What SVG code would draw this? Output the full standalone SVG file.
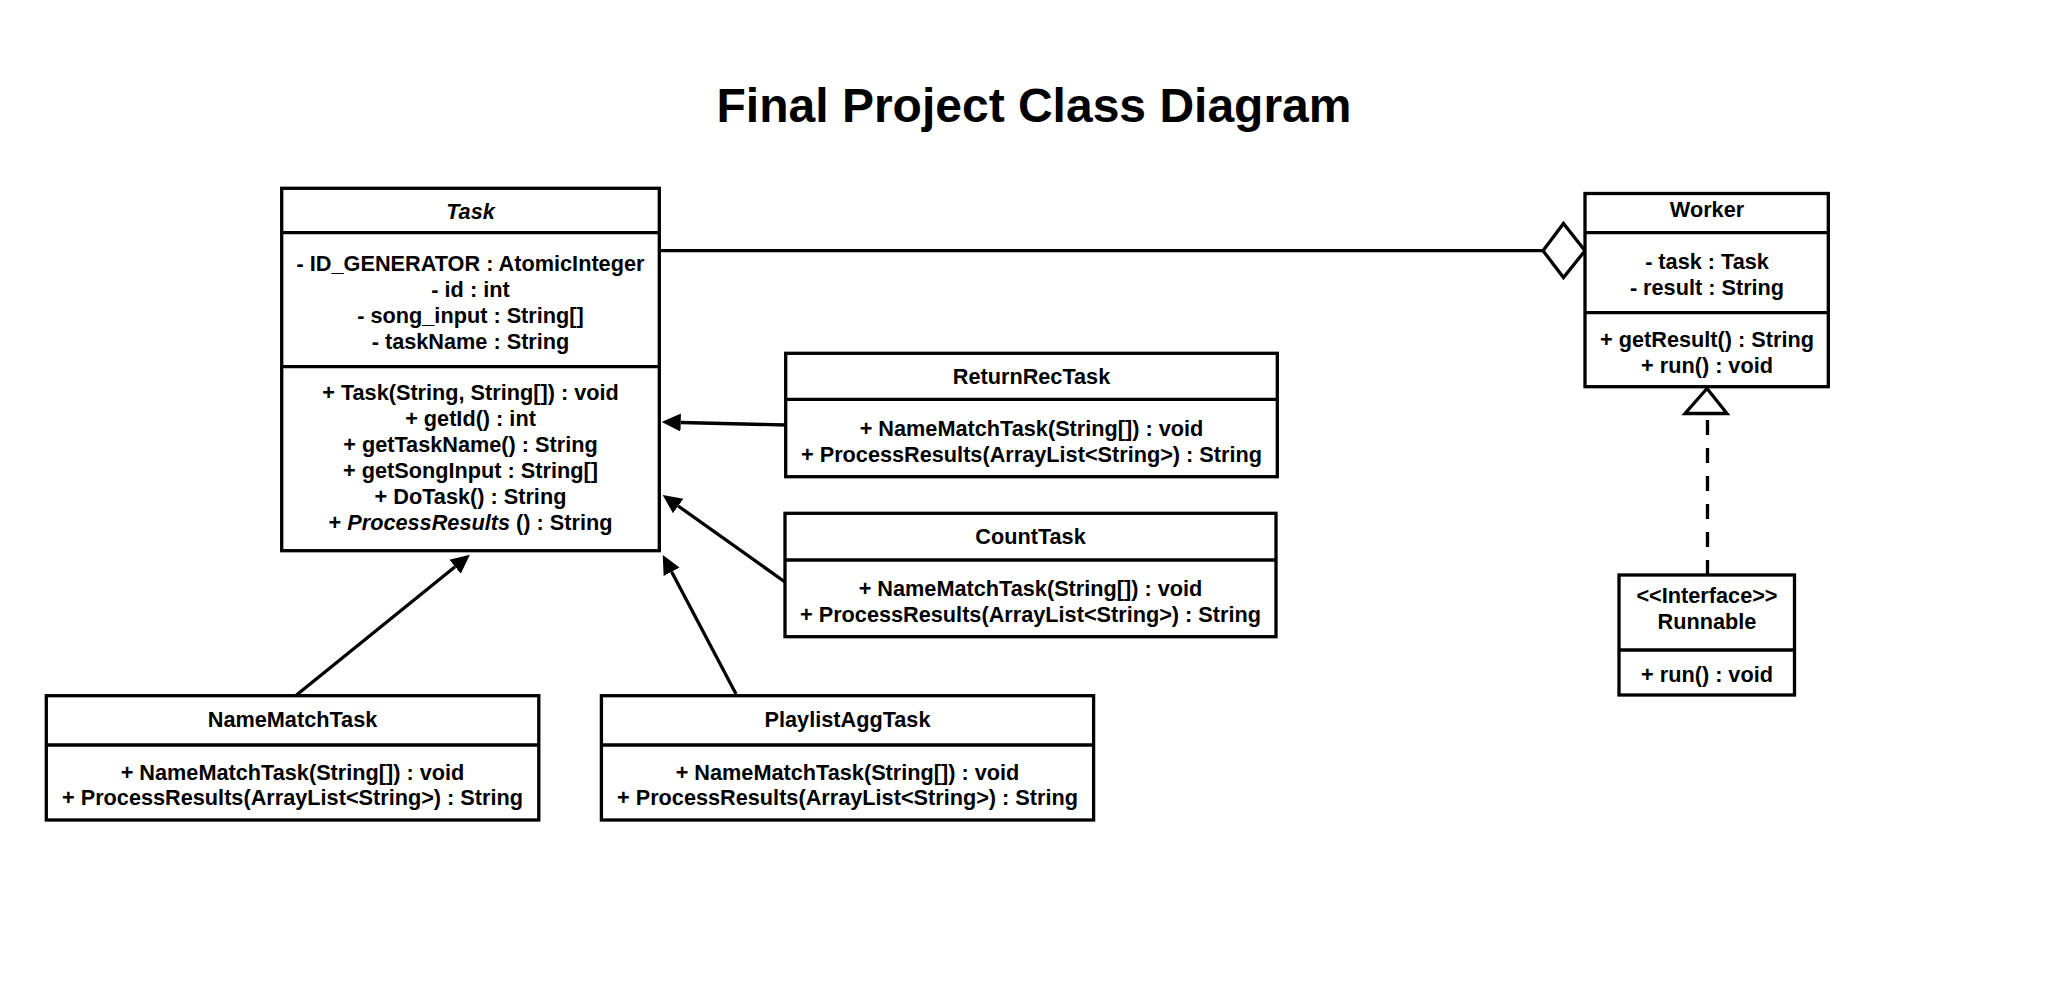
<svg xmlns="http://www.w3.org/2000/svg" width="2060" height="982" viewBox="0 0 2060 982">
<style>
.box{fill:#fff;stroke:#000;stroke-width:3.3}
.div{stroke:#000;stroke-width:3.3;fill:none}
.t{font-family:"Liberation Sans",Arial,Helvetica,sans-serif;font-weight:bold;font-size:21.7px;fill:#000;text-anchor:middle}
.title{font-family:"Liberation Sans",Arial,Helvetica,sans-serif;font-weight:bold;font-size:48px;fill:#000;text-anchor:middle}
.it{font-style:italic}
.edge{stroke:#000;stroke-width:3.3;fill:none}
</style>
<defs>
<marker id="block" markerUnits="userSpaceOnUse" markerWidth="22" markerHeight="22" viewBox="0 -11 22 22" refX="0" refY="0" orient="auto">
<path d="M0,-9 L19,0 L0,9 Z" fill="#000"/>
</marker>
</defs>
<rect x="0" y="0" width="2060" height="982" fill="#fff"/>
<text class="title" x="1034" y="122">Final Project Class Diagram</text>

<g id="connectors">
<line class="edge" x1="659" y1="250.7" x2="1543" y2="250.7"/>
<path class="edge" d="M1543,250.7 L1563.5,223.5 L1585,250.7 L1563.5,277.5 Z" style="fill:#fff"/>
<path class="edge" d="M785.7,425 L680.7,422.5" marker-end="url(#block)"/>
<path class="edge" d="M785,582 L678.2,506" marker-end="url(#block)"/>
<path class="edge" d="M296.5,695 L455.1,566.7" marker-end="url(#block)"/>
<path class="edge" d="M736,694 L671.6,571.8" marker-end="url(#block)"/>
<line class="edge" x1="1707.5" y1="575" x2="1707.5" y2="413.5" stroke-dasharray="15 13"/>
<path class="edge" d="M1707,388.5 L1727,413.5 L1685,413.5 Z" style="fill:#fff"/>
</g>

<g id="Task">
<rect class="box" x="281.7" y="188.3" width="377.6" height="362.4"/>
<line class="div" x1="281.7" y1="232.7" x2="659.3" y2="232.7"/>
<line class="div" x1="281.7" y1="366.7" x2="659.3" y2="366.7"/>
<text class="t it" x="470.5" y="219">Task</text>
<text class="t" x="470.5" y="270.7">- ID_GENERATOR : AtomicInteger</text>
<text class="t" x="470.5" y="296.7">- id : int</text>
<text class="t" x="470.5" y="322.7">- song_input : String[]</text>
<text class="t" x="470.5" y="348.5">- taskName : String</text>
<text class="t" x="470.5" y="400">+ Task(String, String[]) : void</text>
<text class="t" x="470.5" y="426">+ getId() : int</text>
<text class="t" x="470.5" y="452">+ getTaskName() : String</text>
<text class="t" x="470.5" y="478">+ getSongInput : String[]</text>
<text class="t" x="470.5" y="504">+ DoTask() : String</text>
<text class="t" x="470.5" y="530">+ <tspan class="it">ProcessResults</tspan> () : String</text>
</g>

<g id="Worker">
<rect class="box" x="1585" y="193.5" width="243.3" height="193.2"/>
<line class="div" x1="1585" y1="232.7" x2="1828.3" y2="232.7"/>
<line class="div" x1="1585" y1="312.7" x2="1828.3" y2="312.7"/>
<text class="t" x="1707" y="216.7">Worker</text>
<text class="t" x="1707" y="269.3">- task : Task</text>
<text class="t" x="1707" y="295">- result : String</text>
<text class="t" x="1707" y="346.7">+ getResult() : String</text>
<text class="t" x="1707" y="372.7">+ run() : void</text>
</g>

<g id="Runnable">
<rect class="box" x="1619" y="575" width="175.5" height="120"/>
<line class="div" x1="1619" y1="650" x2="1794.5" y2="650"/>
<text class="t" x="1707" y="603.3">&lt;&lt;Interface&gt;&gt;</text>
<text class="t" x="1707" y="629.3">Runnable</text>
<text class="t" x="1707" y="681.7">+ run() : void</text>
</g>

<g id="ReturnRecTask">
<rect class="box" x="785.7" y="353.3" width="491.6" height="123.4"/>
<line class="div" x1="785.7" y1="399.3" x2="1277.3" y2="399.3"/>
<text class="t" x="1031.5" y="384">ReturnRecTask</text>
<text class="t" x="1031.5" y="436">+ NameMatchTask(String[]) : void</text>
<text class="t" x="1031.5" y="462.3">+ ProcessResults(ArrayList&lt;String&gt;) : String</text>
</g>

<g id="CountTask">
<rect class="box" x="785" y="513.3" width="491" height="123.4"/>
<line class="div" x1="785" y1="560" x2="1276" y2="560"/>
<text class="t" x="1030.5" y="543.5">CountTask</text>
<text class="t" x="1030.5" y="595.5">+ NameMatchTask(String[]) : void</text>
<text class="t" x="1030.5" y="621.7">+ ProcessResults(ArrayList&lt;String&gt;) : String</text>
</g>

<g id="NameMatchTask">
<rect class="box" x="46.3" y="695.7" width="492.5" height="124.3"/>
<line class="div" x1="46.3" y1="745" x2="538.8" y2="745"/>
<text class="t" x="292.5" y="726.7">NameMatchTask</text>
<text class="t" x="292.5" y="779.5">+ NameMatchTask(String[]) : void</text>
<text class="t" x="292.5" y="805.3">+ ProcessResults(ArrayList&lt;String&gt;) : String</text>
</g>

<g id="PlaylistAggTask">
<rect class="box" x="601.4" y="695.7" width="492.2" height="124.3"/>
<line class="div" x1="601.4" y1="745" x2="1093.6" y2="745"/>
<text class="t" x="847.5" y="726.7">PlaylistAggTask</text>
<text class="t" x="847.5" y="779.5">+ NameMatchTask(String[]) : void</text>
<text class="t" x="847.5" y="805.3">+ ProcessResults(ArrayList&lt;String&gt;) : String</text>
</g>
</svg>
